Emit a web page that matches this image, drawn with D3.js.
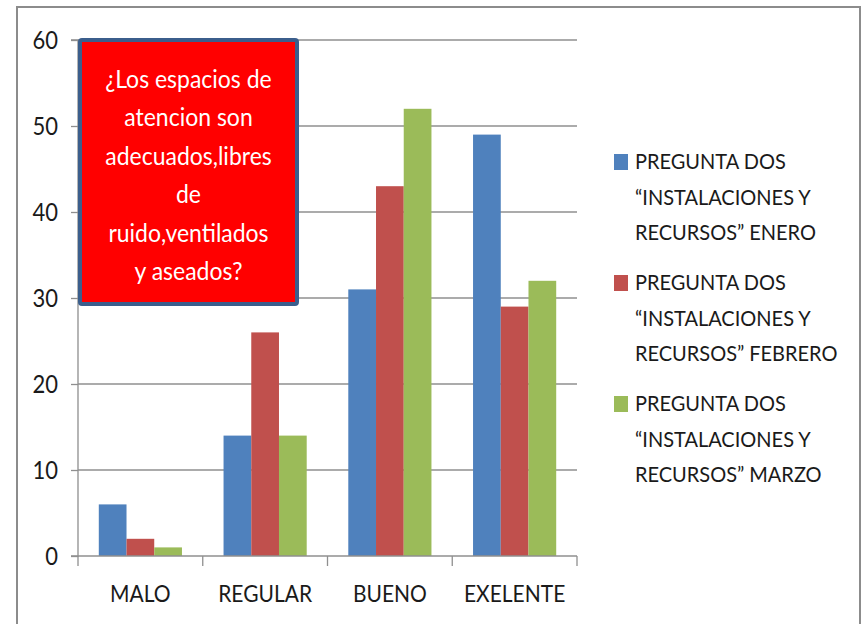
<!DOCTYPE html>
<html>
<head>
<meta charset="utf-8">
<script src="https://cdn.jsdelivr.net/npm/d3@7"></script>
<style>
  html, body { margin: 0; padding: 0; background: #fff; }
  svg text { font-family: Lato, "Open Sans", sans-serif; fill: #1a1a1a; }
</style>
</head>
<body>
<svg id="chart" width="863" height="624"></svg>
<script>
// ---- data ----
const categories = ["MALO", "REGULAR", "BUENO", "EXELENTE"];
const seriesNames = [
  "PREGUNTA DOS “INSTALACIONES Y RECURSOS” ENERO",
  "PREGUNTA DOS “INSTALACIONES Y RECURSOS” FEBRERO",
  "PREGUNTA DOS “INSTALACIONES Y RECURSOS” MARZO"
];
const enero   = [6, 14, 31, 49];
const febrero = [2, 26, 43, 29];
const marzo   = [1, 14, 52, 32];
const seriesValues = [enero, febrero, marzo];
const seriesColors = ["#4F81BD", "#C0504D", "#9BBB59"];
const yTicks = [0, 10, 20, 30, 40, 50, 60];
const boxLines = ["¿Los espacios de", "atencion son", "adecuados,libres", "de", "ruido,ventilados", "y aseados?"];

// ---- layout ----
const svg = d3.select("#chart");
const plot = { left: 78, right: 577, top: 40, bottom: 556 };
const stretch = 1.1; // vertical stretch of label glyphs

// outer chart border
svg.append("rect")
  .attr("x", 17).attr("y", 7).attr("width", 843).attr("height", 640)
  .attr("fill", "#fff").attr("stroke", "#8c8c8c").attr("stroke-width", 2);

const x0 = d3.scaleBand().domain(categories).range([plot.left, plot.right]).paddingInner(0).paddingOuter(0);
// Excel gap width 150% -> bar width = band / 4.5
const groupPad = (1.5 / 4.5) / 2;
const x1 = d3.scaleBand().domain(d3.range(seriesNames.length))
  .range([x0.bandwidth() * groupPad, x0.bandwidth() * (1 - groupPad)]).paddingInner(0).paddingOuter(0);
const y = d3.scaleLinear().domain([0, 60]).range([plot.bottom, plot.top]);

// gridlines
svg.append("g").selectAll("line").data(yTicks.filter(d => d > 0)).join("line")
  .attr("x1", plot.left).attr("x2", plot.right)
  .attr("y1", d => y(d)).attr("y2", d => y(d))
  .attr("stroke", "#8f8f8f").attr("stroke-width", 1.3);

// bars
const groups = svg.append("g").selectAll("g").data(categories).join("g")
  .attr("transform", d => `translate(${x0(d)},0)`);
groups.selectAll("rect")
  .data((c, i) => seriesValues.map((vals, s) => ({ s, v: vals[i] })))
  .join("rect")
  .attr("x", d => x1(d.s)).attr("width", x1.bandwidth())
  .attr("y", d => y(d.v)).attr("height", d => y(0) - y(d.v))
  .attr("fill", d => seriesColors[d.s]);

// y axis
const yAxis = d3.axisLeft(y).tickValues(yTicks).tickSize(7).tickPadding(13).tickFormat(d3.format("d"));
const gy = svg.append("g").attr("transform", `translate(${plot.left},0)`).call(yAxis);
gy.select(".domain").attr("stroke", "#8f8f8f").attr("stroke-width", 1.3).attr("d", `M-7,${plot.top}H0V${plot.bottom}H-7`);
gy.selectAll(".tick line").attr("stroke", "#8f8f8f").attr("stroke-width", 1.3);
gy.selectAll(".tick text").style("font-size", "22px").attr("dy", "0.34em")
  .attr("transform", `scale(1,${stretch})`).style("fill", "#1a1a1a");

// x axis
const xAxis = d3.axisBottom(x0).tickSize(0).tickPadding(0);
const gx = svg.append("g").attr("transform", `translate(0,${plot.bottom})`).call(xAxis);
gx.select(".domain").attr("stroke", "#8f8f8f").attr("stroke-width", 1.3).attr("d", `M${plot.left},0H${plot.right}`);
gx.selectAll(".tick text").style("font-size", "21px").attr("y", 46 / stretch).attr("dy", 0)
  .attr("transform", `scale(1,${stretch})`).style("fill", "#1a1a1a");
// category boundary tick marks
const bounds = categories.map(c => x0(c)).concat([plot.right]);
gx.append("g").selectAll("line").data(bounds).join("line")
  .attr("x1", d => d).attr("x2", d => d).attr("y1", 0).attr("y2", 10)
  .attr("stroke", "#8f8f8f").attr("stroke-width", 1.3);

// legend
const legend = svg.append("g").attr("transform", "translate(614,0)");
const lineH = 35.5, blockTop = [162, 283, 404];
const legStretch = 1.07;
seriesNames.forEach((name, s) => {
  const g = legend.append("g").attr("transform", `translate(0,${blockTop[s]})`);
  g.append("rect").attr("x", 0).attr("y", -8).attr("width", 14).attr("height", 16).attr("fill", seriesColors[s]);
  const t = g.append("text").attr("transform", `scale(1,${legStretch})`).style("font-size", "20px");
  // word wrap
  const words = name.split(" ");
  let lines = [], cur = [];
  const probe = svg.append("text").style("font-size", "20px");
  words.forEach(w => {
    const test = cur.concat([w]).join(" ");
    probe.text(test);
    if (probe.node().getComputedTextLength() > 240 && cur.length) { lines.push(cur.join(" ")); cur = [w]; }
    else cur.push(w);
  });
  lines.push(cur.join(" "));
  probe.remove();
  lines.forEach((l, i) => t.append("tspan").attr("x", 21).attr("y", i * lineH / legStretch).attr("dy", "0.35em").text(l));
});

// red annotation box
const box = svg.append("g");
box.append("rect").attr("x", 80).attr("y", 40).attr("width", 217).attr("height", 264).attr("rx", 2)
  .attr("fill", "#FF0000").attr("stroke", "#3B5E8C").attr("stroke-width", 4);
box.append("text").attr("text-anchor", "middle").style("font-size", "23px").style("fill", "#fff")
  .attr("transform", `scale(1,${stretch})`)
  .selectAll("tspan").data(boxLines).join("tspan")
  .attr("x", 188.5).attr("y", (d, i) => (88 + i * 38.4) / stretch).text(d => d)
  .style("fill", "#fff");
</script>
</body>
</html>
